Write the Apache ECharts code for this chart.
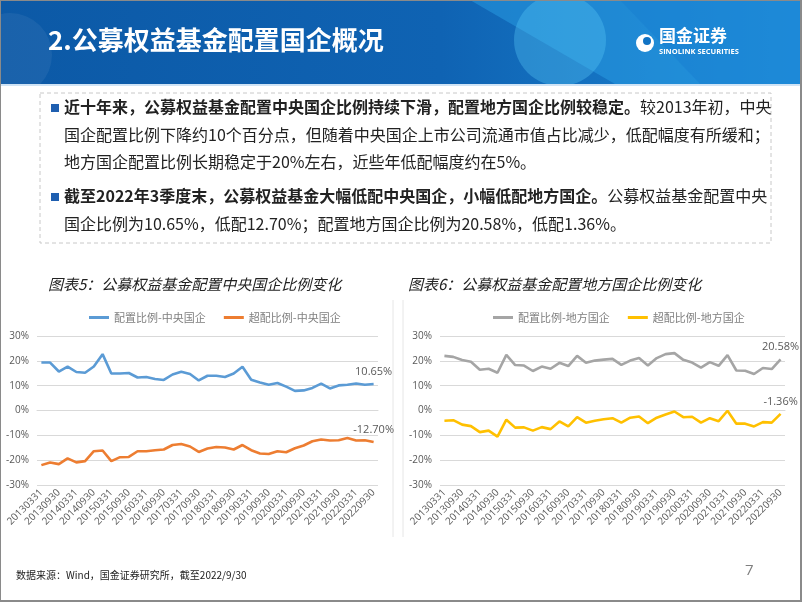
<!DOCTYPE html>
<html><head><meta charset="utf-8">
<script src="https://cdn.jsdelivr.net/npm/echarts@6/dist/echarts.min.js"></script>
<style>html,body{margin:0;padding:0;background:#fff}#c{width:802px;height:602px}</style>
</head><body><div id="c"></div>
<script>
const dates = ['20130331','20130630','20130930','20131231','20140331','20140630','20140930','20141231','20150331','20150630','20150930','20151231','20160331','20160630','20160930','20161231','20170331','20170630','20170930','20171231','20180331','20180630','20180930','20181231','20190331','20190630','20190930','20191231','20200331','20200630','20200930','20201231','20210331','20210630','20210930','20211231','20220331','20220630','20220930'];
const centralAlloc = [19.3,19.3,15.7,17.7,15.5,15.2,17.7,22.7,14.9,14.9,15.1,13.3,13.5,12.7,12.3,14.5,15.6,14.7,12.1,14.0,14.0,13.5,14.9,17.6,12.4,11.3,10.4,11.1,9.6,7.9,8.1,9.1,10.8,8.9,10.1,10.4,10.9,10.4,10.65];
const centralOver = [-22.0,-20.9,-21.6,-19.3,-20.9,-20.4,-16.4,-16.1,-20.4,-18.8,-18.7,-16.4,-16.4,-16.0,-15.7,-13.9,-13.5,-14.5,-16.7,-15.3,-14.7,-14.9,-15.7,-13.9,-16.0,-17.3,-17.5,-16.4,-16.8,-15.2,-14.1,-12.4,-11.7,-12.1,-12.0,-11.1,-12.1,-12.0,-12.70];
const localAlloc = [22.0,21.6,20.3,19.6,16.4,16.8,15.2,22.4,18.3,18.1,15.9,17.7,16.8,19.2,17.9,22.0,19.2,20.1,20.5,20.8,18.4,20.1,21.1,18.1,21.1,22.7,23.1,20.4,19.3,17.3,19.5,18.0,22.3,16.1,16.0,14.7,17.1,16.7,20.58];
const localOver = [-4.1,-3.9,-5.7,-6.3,-8.7,-8.1,-10.5,-3.7,-6.9,-6.8,-8.1,-6.7,-7.5,-4.4,-6.4,-2.7,-4.9,-4.1,-3.5,-3.1,-4.9,-2.9,-2.4,-5.1,-2.9,-1.6,-0.4,-2.7,-2.5,-4.9,-3.1,-4.3,-0.1,-5.3,-5.3,-6.4,-4.7,-4.9,-1.36];
const yMin = -30, yMax = 30, yStep = 10;

const chart = echarts.init(document.getElementById('c'));
const lastLabel = (dx) => ({
  show: true, position: 'top', distance: 7, color: '#595959', fontSize: 11,
  fontFamily: 'Open Sans', offset:[dx,0],
  formatter: p => p.dataIndex === dates.length - 1 ? Number(p.value).toFixed(2) + '%' : ''
});
function xAx(gi){ return {
  type:'category', gridIndex:gi, data:dates, boundaryGap:true,
  axisLine:{show:true,lineStyle:{color:'#d9d9d9'}}, axisTick:{show:false},
  axisLabel:{interval:1, rotate:45, color:'#595959', fontSize:10, margin:6, fontFamily:'Open Sans'}
};}
function yAx(gi){ return {
  type:'value', gridIndex:gi, min:yMin, max:yMax, interval:yStep,
  axisLine:{show:false}, axisTick:{show:false},
  splitLine:{lineStyle:{color:'#d9d9d9'}},
  axisLabel:{formatter:'{value}%', color:'#595959', fontSize:10, margin:8, fontFamily:'Open Sans'}
};}
function ser(name, data, color, gi, dx){ return {
  name, type:'line', data, xAxisIndex:gi, yAxisIndex:gi, symbol:'circle', symbolSize:0.01, showAllSymbol:true,
  lineStyle:{color, width:2.6}, itemStyle:{color}, label:lastLabel(dx), labelLayout:{hideOverlap:false}, animation:false
};}
const T = (x,y,text,style) => ({type:'text', left:x, top:y, style:Object.assign({text, fill:'#222', fontSize:16, fontFamily:'Noto Sans CJK SC'}, style)});
const rich = {b:{fontWeight:'bold', fontSize:16, fill:'#222', fontFamily:'Noto Sans CJK SC'}, n:{fontSize:16, fill:'#222', fontFamily:'Noto Sans CJK SC'}};

chart.setOption({
  animation:false,
  textStyle:{fontFamily:'Noto Sans CJK SC'},
  grid:[{left:37,right:424,top:336,bottom:117},{left:440,right:17,top:336,bottom:117}],
  xAxis:[xAx(0), xAx(1)],
  yAxis:[yAx(0), yAx(1)],
  legend:[
    {data:['配置比例-中央国企','超配比例-中央国企'], left:84, top:307, icon:'rect', itemWidth:20, itemHeight:3, itemGap:18, textStyle:{color:'#7f7f7f', fontSize:11}},
    {data:['配置比例-地方国企','超配比例-地方国企'], left:488, top:307, icon:'rect', itemWidth:20, itemHeight:3, itemGap:18, textStyle:{color:'#7f7f7f', fontSize:11}}
  ],
  series:[
    ser('配置比例-中央国企', centralAlloc, '#5B9BD5', 0, -3),
    ser('超配比例-中央国企', centralOver, '#ED7D31', 0, -3),
    ser('配置比例-地方国企', localAlloc, '#A5A5A5', 1, -3),
    ser('超配比例-地方国企', localOver, '#FFC000', 1, -5)
  ],
  graphic:[
    {type:'rect', shape:{x:0,y:0,width:802,height:84}, style:{fill:new echarts.graphic.LinearGradient(0,0,1,0,[{offset:0,color:'#0c59a6'},{offset:0.55,color:'#0f63b3'},{offset:1,color:'#1b86d4'}])}, z:0},
    {type:'circle', shape:{cx:10,cy:55,r:42}, style:{fill:'rgba(255,255,255,0.06)'}, z:1},
    {type:'polygon', shape:{points:[[470,0],[802,0],[802,84],[615,84]]}, style:{fill:'rgba(45,165,232,0.45)'}, z:1},
    {type:'circle', shape:{cx:560,cy:40,r:46}, style:{fill:'rgba(90,200,245,0.35)'}, z:1},
    {type:'polygon', shape:{points:[[620,0],[802,0],[802,84],[700,84]]}, style:{fill:'rgba(20,120,205,0.35)'}, z:1},
    {type:'rect', shape:{x:0,y:84,width:802,height:2}, style:{fill:'#cfe3f5'}, z:2},
    {type:'text', left:48, top:27, style:{text:'2.公募权益基金配置国企概况', fill:'#fff', fontSize:26, fontWeight:'bold', fontFamily:'Noto Sans CJK SC'}, z:3},
    {type:'circle', shape:{cx:645,cy:43,r:9}, style:{fill:'#fff'}, z:3},
    {type:'circle', shape:{cx:647,cy:41,r:4}, style:{fill:'#1173c4'}, z:4},
    {type:'text', left:659, top:27, style:{text:'国金证券', fill:'#fff', fontSize:17, fontWeight:'bold', fontFamily:'Noto Sans CJK SC'}, z:3},
    {type:'text', left:659, top:48, style:{text:'SINOLINK SECURITIES', fill:'#fff', fontSize:7.5, fontWeight:'bold', fontFamily:'Open Sans'}, z:3},
    {type:'rect', shape:{x:40,y:93,width:731,height:150}, style:{fill:'none', stroke:'#c8c8c8', lineWidth:1, lineDash:[4,3]}},
    {type:'rect', shape:{x:51,y:104,width:8,height:8}, style:{fill:'#1f5fb0'}},
    {type:'rect', shape:{x:51,y:193,width:8,height:8}, style:{fill:'#1f5fb0'}},
    {type:'text', left:64, top:99, style:{text:'{b|近十年来，公募权益基金配置中央国企比例持续下滑，配置地方国企比例较稳定。}{n|较2013年初，中央}', rich}},
    T(64,127,'国企配置比例下降约10个百分点，但随着中央国企上市公司流通市值占比减少，低配幅度有所缓和；'),
    T(64,154,'地方国企配置比例长期稳定于20%左右，近些年低配幅度约在5%。'),
    {type:'text', left:64, top:188, style:{text:'{b|截至2022年3季度末，公募权益基金大幅低配中央国企，小幅低配地方国企。}{n|公募权益基金配置中央}', rich}},
    T(64,216,'国企比例为10.65%，低配12.70%；配置地方国企比例为20.58%，低配1.36%。'),
    T(48,277,'图表5：公募权益基金配置中央国企比例变化',{fontSize:15, fontStyle:'italic', fill:'#222'}),
    T(408,277,'图表6：公募权益基金配置地方国企比例变化',{fontSize:15, fontStyle:'italic', fill:'#222'}),
    {type:'line', shape:{x1:393,y1:300,x2:393,y2:537}, style:{stroke:'#e6e6e6', lineWidth:1}},
    {type:'line', shape:{x1:403,y1:300,x2:403,y2:537}, style:{stroke:'#e6e6e6', lineWidth:1}},
    T(16,570,'数据来源：Wind，国金证券研究所，截至2022/9/30',{fontSize:10, fill:'#222'}),
    T(745,563,'7',{fontSize:15, fill:'#7f7f7f', fontFamily:'Open Sans'}),
    {type:'rect', shape:{x:0,y:0,width:801,height:601}, style:{fill:'none', stroke:'#8a8a8a', lineWidth:2}, z:10}
  ]
});
</script></body></html>
